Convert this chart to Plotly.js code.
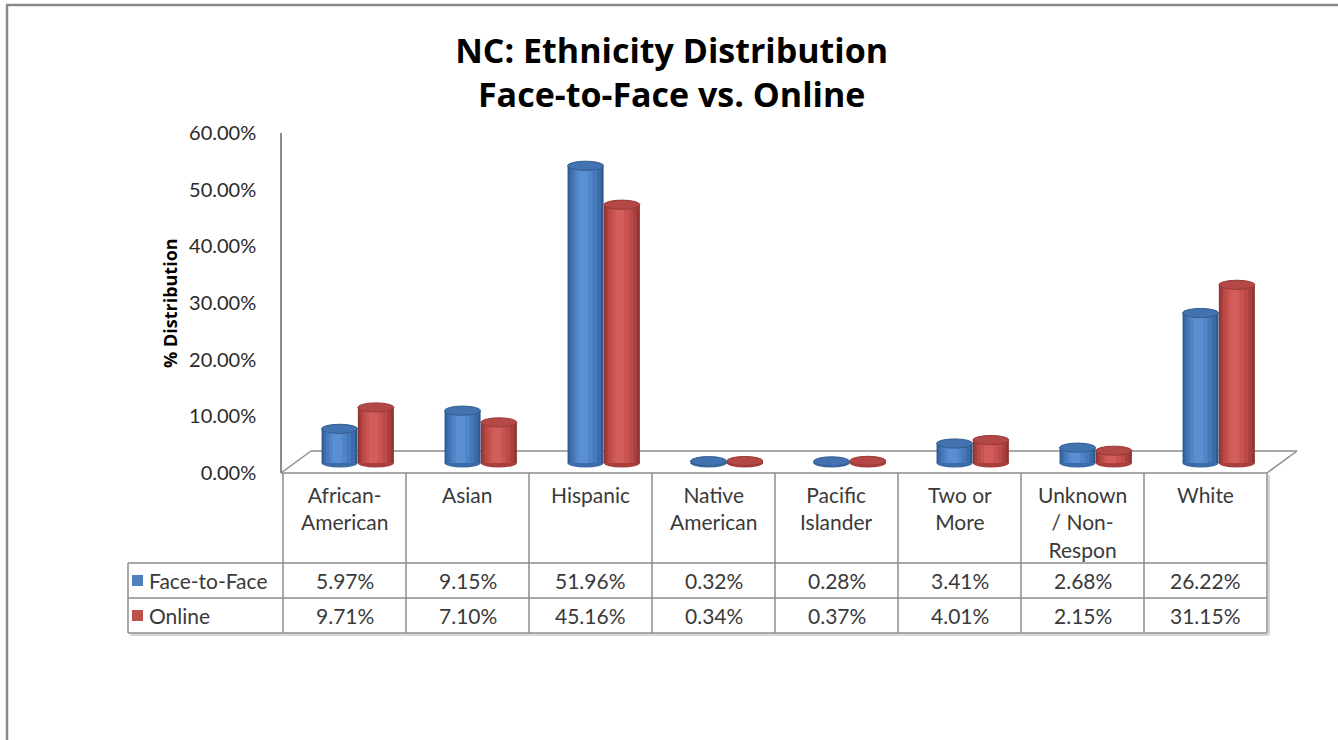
<!DOCTYPE html>
<html>
<head>
<meta charset="utf-8">
<script src="https://cdn.plot.ly/plotly-3.0.1.min.js"></script>
<style>
  html, body { margin: 0; padding: 0; background: #ffffff; }
  #chart { width: 1338px; height: 740px; }
</style>
</head>
<body>
<div id="chart"></div>
<script>
// ---------- data ----------
const categories = ['African-<br>American', 'Asian', 'Hispanic', 'Native<br>American',
  'Pacific<br>Islander', 'Two or<br>More', 'Unknown<br>/ Non-<br>Respon', 'White'];
const faceToFace = [5.97, 9.15, 51.96, 0.32, 0.28, 3.41, 2.68, 26.22];
const online = [9.71, 7.10, 45.16, 0.34, 0.37, 4.01, 2.15, 31.15];
const seriesNames = ['Face-to-Face', 'Online'];
const chartTitle = 'NC: Ethnicity Distribution<br>Face-to-Face vs. Online';
const yTitle = '% Distribution';

// ---------- geometry helpers (pixel -> paper) ----------
const W = 1338, H = 740;
const px = x => x / W;
const py = y => 1 - y / H;
const FONT = 'Lato, "Open Sans", sans-serif';
const TFONT = '"Open Sans", Lato, sans-serif';
const TXT = '#3a3a3a';

const colL = 283, colW = 123, nCat = categories.length;
const colR = colL + colW * nCat;
const pxPerUnit = 5.72, base0 = 463, yMin = -3, yMax = 60;

const seriesVals = [faceToFace, online];
const seriesCenter = [-0.04, 0.255];
const barW = 0.293;
const ellH = 0.8;

const layerFrac = [1.0, 0.88, 0.7, 0.48, 0.26];
const layerShift = [0, -0.012, -0.03, -0.045, -0.06];
const palette = [
  ['#2F5B90', '#3B6CA8', '#4679BC', '#5086C9', '#5A90D2'],
  ['#8E3432', '#A83F3C', '#BC4A47', '#C95350', '#D25D5A']
];
const topFill = ['#4272B0', '#B44846'];
const topLine = ['#335C92', '#953A38'];
const legendColor = ['#4F81BD', '#C0504D'];

const idx = categories.map((_, i) => i);

// ---------- traces ----------
const traces = [];
seriesVals.forEach((vals, s) => {
  layerFrac.forEach((f, k) => {
    const w = barW * f;
    traces.push({
      type: 'bar', x: idx, y: vals, name: seriesNames[s],
      width: w, offset: seriesCenter[s] + layerShift[k] * barW - w / 2,
      marker: { color: palette[s][k], line: { width: 0 } },
      showlegend: false,
      hoverinfo: k === 0 ? 'y+name' : 'skip'
    });
  });
});
traces.push({
  type: 'scatter', x: [0], y: [0], xaxis: 'x', yaxis: 'y2', mode: 'markers',
  marker: { opacity: 0 }, hoverinfo: 'skip', showlegend: false
});

// ---------- shapes ----------
const shapes = [];
const gray = '#8c8c8c';
function pline(x0, y0, x1, y1, color, width, layer) {
  shapes.push({ type: 'line', xref: 'paper', yref: 'paper',
    x0: px(x0), y0: py(y0), x1: px(x1), y1: py(y1),
    line: { color: color || gray, width: width || 1.5 }, layer: layer || 'below' });
}
// page frame
pline(7, 5, 7, 740, '#8a8a8a', 2.5);
pline(6, 5, 1338, 5, '#8a8a8a', 2.5);
// floor
const dX = 30, dY = 22, floorY = 473;
pline(colL - 2 + dX, floorY - dY, colR + dX, floorY - dY);
pline(colL - 2, floorY, colL - 2 + dX, floorY - dY);
pline(colR, floorY, colR + dX, floorY - dY);
// table
const rowTop = [473, 563, 598, 633];
const legL = 128;
pline(colL - 2, rowTop[0], colR, rowTop[0]);
[1, 2, 3].forEach(r => pline(legL, rowTop[r], colR, rowTop[r]));
pline(legL, rowTop[1], legL, rowTop[3]);
for (let i = 0; i <= nCat; i++) pline(colL + colW * i, rowTop[0], colL + colW * i, rowTop[3]);
// table shadow
pline(legL + 2, rowTop[3] + 2, colR + 2, rowTop[3] + 2, '#d6d6d6', 2);
pline(colR + 2, rowTop[0] + 2, colR + 2, rowTop[3] + 2, '#d6d6d6', 2);
// legend keys
seriesNames.forEach((n, s) => {
  const cy = (rowTop[s + 1] + rowTop[s + 2]) / 2;
  shapes.push({ type: 'rect', xref: 'paper', yref: 'paper',
    x0: px(132), x1: px(143), y0: py(cy - 5.5), y1: py(cy + 5.5),
    fillcolor: legendColor[s], line: { width: 0 }, layer: 'above' });
});
// cylinder ends
seriesVals.forEach((vals, s) => {
  vals.forEach((v, i) => {
    const xc = i + seriesCenter[s];
    shapes.push({ type: 'circle', xref: 'x', yref: 'y',
      x0: xc - barW / 2, x1: xc + barW / 2, y0: -ellH, y1: ellH,
      fillcolor: palette[s][1], line: { width: 0 }, layer: 'below' });
    shapes.push({ type: 'circle', xref: 'x', yref: 'y',
      x0: xc - barW / 2, x1: xc + barW / 2, y0: v - ellH, y1: v + ellH,
      fillcolor: topFill[s], line: { color: topLine[s], width: 1 }, layer: 'above' });
  });
});

// ---------- annotations ----------
const annotations = [];
categories.forEach((c, i) => {
  annotations.push({ xref: 'x', yref: 'paper', x: i, y: py(480), yanchor: 'top',
    text: c, showarrow: false, align: 'center',
    font: { family: FONT, size: 21, color: TXT } });
  seriesVals.forEach((vals, s) => {
    annotations.push({ xref: 'x', yref: 'paper', x: i,
      y: py((rowTop[s + 1] + rowTop[s + 2]) / 2), yanchor: 'middle',
      text: vals[i].toFixed(2) + '%', showarrow: false,
      font: { family: FONT, size: 21, color: TXT } });
  });
});
seriesNames.forEach((n, s) => {
  annotations.push({ xref: 'paper', yref: 'paper', x: px(147), xanchor: 'left',
    y: py((rowTop[s + 1] + rowTop[s + 2]) / 2), yanchor: 'middle',
    text: n, showarrow: false, font: { family: FONT, size: 21, color: TXT } });
});
annotations.push({ xref: 'paper', yref: 'paper', x: px(170), xanchor: 'center',
  y: py(303), yanchor: 'middle',
  text: yTitle, textangle: -90, showarrow: false,
  font: { family: TFONT, size: 18, color: '#000', weight: 700 } });

// ---------- layout ----------
const layout = {
  width: W, height: H,
  margin: { l: 0, r: 0, t: 0, b: 0 },
  paper_bgcolor: '#ffffff', plot_bgcolor: 'rgba(0,0,0,0)',
  showlegend: false, barmode: 'overlay',
  title: { text: chartTitle, x: 0.502, xanchor: 'center', yref: 'container',
    y: 1 - 63 / H, yanchor: 'middle',
    font: { family: TFONT, size: 34, color: '#000', weight: 700 } },
  xaxis: { domain: [px(colL), px(colR)], range: [-0.5, nCat - 0.5],
    showgrid: false, zeroline: false, showline: false, showticklabels: false, ticks: '' },
  yaxis: { domain: [py(base0 - yMin * pxPerUnit), py(base0 - yMax * pxPerUnit)],
    range: [yMin, yMax], showgrid: false, zeroline: false, showline: false,
    showticklabels: false, ticks: '' },
  yaxis2: { domain: [py(473), py(133)], range: [0, 60], anchor: 'free', position: px(281),
    side: 'left', showline: true, linecolor: '#8c8c8c', linewidth: 1.5,
    showgrid: false, zeroline: false, dtick: 10, tickformat: '.2f', ticksuffix: '%',
    ticks: 'outside', ticklen: 20, tickcolor: 'rgba(0,0,0,0)',
    tickfont: { family: FONT, size: 20, color: '#2a2a2a' } },
  shapes: shapes, annotations: annotations
};

Plotly.newPlot('chart', traces, layout, { displayModeBar: false, staticPlot: false });
</script>
</body>
</html>
